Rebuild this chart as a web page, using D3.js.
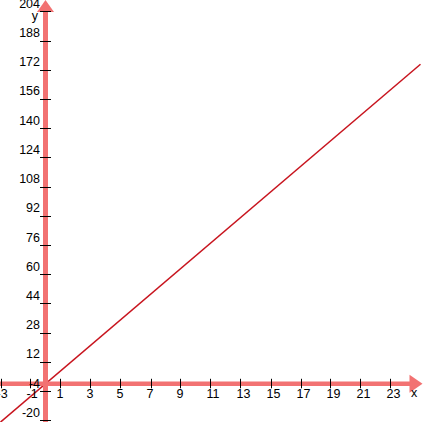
<!DOCTYPE html>
<html>
<head>
<meta charset="utf-8">
<script src="https://cdn.jsdelivr.net/npm/d3@7"></script>
<style>
  html, body { margin: 0; padding: 0; background: #fff; }
  svg { display: block; }
  text { font-family: "Liberation Sans", Arial, sans-serif; font-size: 12.5px; fill: #000; }
</style>
</head>
<body>
<script>
// Data
const xTicks = [-3, -1, 1, 3, 5, 7, 9, 11, 13, 15, 17, 19, 21, 23];
const yTicks = [-20, -4, 12, 28, 44, 60, 76, 92, 108, 124, 140, 156, 172, 188, 204];
const lineX = [-3, 25];
const lineY = [-21, 175];
const xAxisLabel = "x";
const yAxisLabel = "y";

const W = 428, H = 422;
const axisColor = "#f27272";
const lineColor = "#c8141e";

const svg = d3.select("body").append("svg").attr("width", W).attr("height", H);

const x = d3.scaleLinear().domain([-3, 25.5]).range([0.5, 428]);
const y = d3.scaleLinear().domain([-20, 204]).range([420.3, 11.3]);

const x0 = x(0), y0 = y(0);

// data line
const pts = lineX.map((d, i) => [d, lineY[i]]);
svg.append("path")
  .datum(pts)
  .attr("d", d3.line().x(d => x(d[0])).y(d => y(d[1])))
  .attr("fill", "none")
  .attr("stroke", lineColor)
  .attr("stroke-width", 1.5);

// axes lines
svg.append("line")
  .attr("x1", 0).attr("x2", 411).attr("y1", y0).attr("y2", y0)
  .attr("stroke", axisColor).attr("stroke-width", 4.5);
svg.append("line")
  .attr("x1", x0).attr("x2", x0).attr("y1", 10).attr("y2", H)
  .attr("stroke", axisColor).attr("stroke-width", 5);

// arrowheads
svg.append("path")
  .attr("d", `M${x0},0 L${x0 + 8.5},12 L${x0 - 8.5},12 Z`)
  .attr("fill", axisColor);
svg.append("path")
  .attr("d", `M422.5,${y0} L409.5,${y0 - 9} L409.5,${y0 + 9} Z`)
  .attr("fill", axisColor);

// x ticks
const xg = svg.append("g");
xg.selectAll("line").data(xTicks).join("line")
  .attr("x1", d => Math.round(x(d)) + 0.5).attr("x2", d => Math.round(x(d)) + 0.5)
  .attr("y1", y0 - 5).attr("y2", y0 + 4.5)
  .attr("stroke", "#000").attr("stroke-width", 1);
xg.selectAll("text").data(xTicks).join("text")
  .attr("x", d => x(d) - 4)
  .attr("y", 398)
  .attr("text-anchor", "start")
  .text(d => String(d));

// y ticks
const yg = svg.append("g");
yg.selectAll("line").data(yTicks.filter(d => d !== 0)).join("line")
  .attr("x1", x0 - 5.5).attr("x2", x0 + 5.5)
  .attr("y1", d => Math.round(y(d)) + 0.5).attr("y2", d => Math.round(y(d)) + 0.5)
  .attr("stroke", "#000").attr("stroke-width", 1);
yg.selectAll("text").data(yTicks).join("text")
  .attr("x", 40)
  .attr("y", d => y(d) - 3.5)
  .attr("text-anchor", "end")
  .text(d => String(d));

// axis labels
svg.append("text").attr("x", 38).attr("y", 20).attr("text-anchor", "end").text(yAxisLabel);
svg.append("text").attr("x", 411).attr("y", 397).attr("text-anchor", "start").text(xAxisLabel);
</script>
</body>
</html>
